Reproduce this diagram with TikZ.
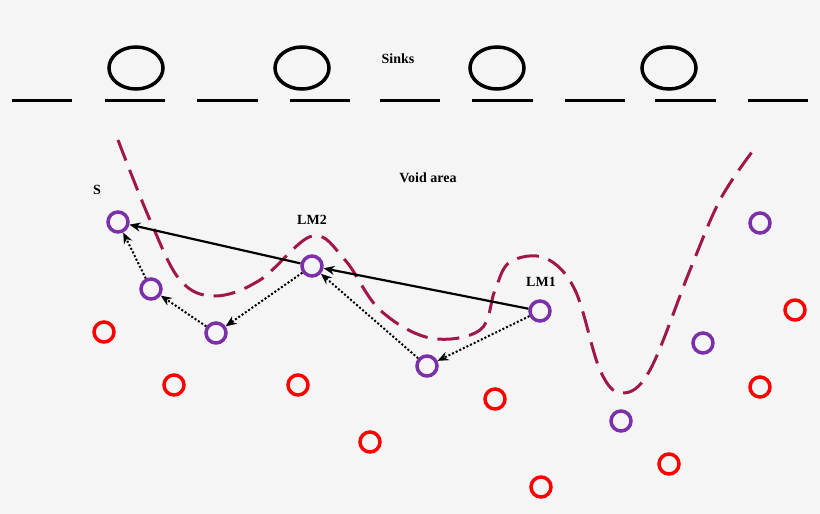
\documentclass[tikz,border=0pt]{standalone}
\usepackage{fontspec}
\setmainfont{Liberation Serif}
\usetikzlibrary{arrows.meta,shapes.geometric}
\definecolor{bg}{HTML}{F5F5F5}
\definecolor{vio}{HTML}{7B2FA8}
\definecolor{crv}{HTML}{A0184A}
\tikzset{
 pn/.style={circle,draw=vio,line width=3.5pt,minimum size=20pt,inner sep=0pt},
 rn/.style={circle,draw=red,line width=3.5pt,minimum size=20pt,inner sep=0pt},
 lbl/.style={font=\bfseries\fontsize{14}{16}\selectfont},
 sol/.style={line width=2.2pt,-{Stealth[length=11pt,width=9pt]}},
 dot/.style={line width=2pt,dotted,-{Stealth[length=11pt,width=9pt]}},
 bar/.style={line width=3pt},
 sink/.style={ellipse,draw,line width=3.5pt,minimum width=54pt,minimum height=42pt}
}
\begin{document}
\begin{tikzpicture}[x=1pt,y=-1pt]
\fill[bg] (0,0) rectangle (820,514);
\useasboundingbox (0,0) rectangle (820,514);
\foreach \a/\b in {12/72,105/165,197/258,290/350,380/440,472/533,565/625,655/716,748/808}
  \draw[bar] (\a,100) -- (\b,100);
\foreach \x [count=\i] in {136,302,497,669} \node[sink] (k\i) at (\x,68) {};
\node[lbl] (sinks) at (398,59) {Sinks};
\node[lbl] (void) at (428,178) {Void area};
\draw[crv,line width=3pt,dash pattern=on 22pt off 10pt] plot[smooth,tension=0.6] coordinates {(118,140) (150,220) (180,280) (215,296) (260,280) (312,236) (345,260) (380,310) (430,338) (480,330) (495,290) (510,262) (545,258) (575,290) (600,370) (622,393) (650,370) (690,270) (720,200) (752,152)};
\node[pn] (s) at (118,222) {};
\node[pn] (a) at (151,289) {};
\node[pn] (b) at (216,333) {};
\node[pn] (lm2) at (312,266) {};
\node[pn] (c) at (427,366) {};
\node[pn] (lm1) at (540,311) {};
\node[pn] (d) at (621,421) {};
\node[pn] (e) at (703,343) {};
\node[pn] (f) at (760,223) {};
\foreach \x/\y [count=\i] in {104/332,174/385,298/385,370/442,495/399,541/487,669/464,760/387,795/310}
  \node[rn] (r\i) at (\x,\y) {};
\node[lbl] (ls) at (97,190) {S};
\node[lbl] (l2) at (312,220) {LM2};
\node[lbl] (l1) at (541,282) {LM1};
\draw[sol] (lm1) -- (lm2);
\draw[sol] (lm2) -- (s);
\draw[dot] (lm1) -- (c);
\draw[dot] (c) -- (lm2);
\draw[dot] (lm2) -- (b);
\draw[dot] (b) -- (a);
\draw[dot] (a) -- (s);
\end{tikzpicture}
\end{document}
